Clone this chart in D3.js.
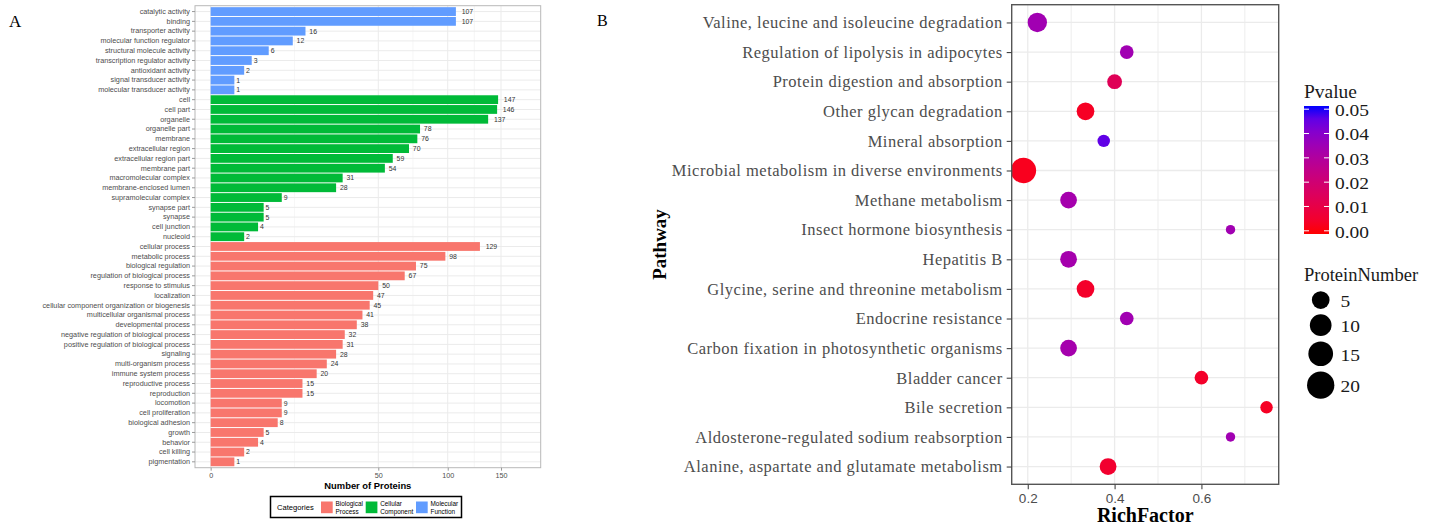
<!DOCTYPE html>
<html><head><meta charset="utf-8">
<script src="https://cdn.jsdelivr.net/npm/d3@7"></script>
<style>body{margin:0;background:#fff} svg{display:block}</style>
</head><body>
<svg id="c" width="1440" height="524"></svg>
<script>
// ---------------- DATA ----------------
const mfTerms = ["catalytic activity","binding","transporter activity","molecular function regulator","structural molecule activity","transcription regulator activity","antioxidant activity","signal transducer activity","molecular transducer activity"];
const mfCounts = [107,107,16,12,6,3,2,1,1];
const ccTerms = ["cell","cell part","organelle","organelle part","membrane","extracellular region","extracellular region part","membrane part","macromolecular complex","membrane-enclosed lumen","supramolecular complex","synapse part","synapse","cell junction","nucleoid"];
const ccCounts = [147,146,137,78,76,70,59,54,31,28,9,5,5,4,2];
const bpTerms = ["cellular process","metabolic process","biological regulation","regulation of biological process","response to stimulus","localization","cellular component organization or biogenesis","multicellular organismal process","developmental process","negative regulation of biological process","positive regulation of biological process","signaling","multi-organism process","immune system process","reproductive process","reproduction","locomotion","cell proliferation","biological adhesion","growth","behavior","cell killing","pigmentation"];
const bpCounts = [129,98,75,67,50,47,45,41,38,32,31,28,24,20,15,15,9,9,8,5,4,2,1];
const categoryNames = ["Biological Process","Cellular Component","Molecular Function"];
const xTicksA = [0,50,100,150];

const pathways = ["Valine, leucine and isoleucine degradation","Regulation of lipolysis in adipocytes","Protein digestion and absorption","Other glycan degradation","Mineral absorption","Microbial metabolism in diverse environments","Methane metabolism","Insect hormone biosynthesis","Hepatitis B","Glycine, serine and threonine metabolism","Endocrine resistance","Carbon fixation in photosynthetic organisms","Bladder cancer","Bile secretion","Aldosterone-regulated sodium reabsorption","Alanine, aspartate and glutamate metabolism"];
const richFactor = [0.222,0.428,0.400,0.333,0.375,0.190,0.294,0.667,0.294,0.333,0.428,0.294,0.600,0.750,0.667,0.385];
const pValue = [0.034,0.034,0.014,0.004,0.045,0.003,0.033,0.034,0.033,0.005,0.034,0.033,0.005,0.004,0.034,0.006];
const proteinNumber = [11,5,6,9,4,20,8,2,8,9,5,8,5,4,2,8];
const xTicksB = [0.2,0.4,0.6];
const pTicks = [0,0.01,0.02,0.03,0.04,0.05];
const sizeLegendValues = [5,10,15,20];

// ---------------- SETUP ----------------
const svg = d3.select("#c");
const sans = "'Liberation Sans', Arial, sans-serif";
const serif = "'Liberation Serif', 'Times New Roman', serif";
const catColor = d3.scaleOrdinal().domain(categoryNames).range(["#F8766D","#00BA38","#619CFF"]);

// ---------------- PANEL A ----------------
const A = {l:195, r:540.7, t:5.7, b:467.7};
const rowsA = [];
mfTerms.forEach((t,i)=>rowsA.push({term:t, n:mfCounts[i], cat:"Molecular Function"}));
ccTerms.forEach((t,i)=>rowsA.push({term:t, n:ccCounts[i], cat:"Cellular Component"}));
bpTerms.forEach((t,i)=>rowsA.push({term:t, n:bpCounts[i], cat:"Biological Process"}));

const yA = d3.scaleBand().domain(rowsA.map(d=>d.term)).range([A.t, A.b]).paddingInner(0.1).paddingOuter(0.15);
const xA = d3.scaleSqrt().domain([-0.4356, 193.8]).range([A.l, A.r]);
const gA = svg.append("g");

gA.append("rect").attr("x",A.l).attr("y",A.t).attr("width",A.r-A.l).attr("height",A.b-A.t).attr("fill","#fff");
const minorA = d3.pairs(xTicksA).map(([a,b])=>Math.pow((Math.sqrt(a)+Math.sqrt(b))/2,2));
gA.selectAll(".mgx").data(minorA).join("line").attr("x1",d=>xA(d)).attr("x2",d=>xA(d)).attr("y1",A.t).attr("y2",A.b).attr("stroke","#f0f0f0").attr("stroke-width",0.6);
gA.selectAll(".gx").data(xTicksA).join("line").attr("x1",d=>xA(d)).attr("x2",d=>xA(d)).attr("y1",A.t).attr("y2",A.b).attr("stroke","#ebebeb").attr("stroke-width",1);
gA.selectAll(".gy").data(rowsA).join("line").attr("x1",A.l).attr("x2",A.r).attr("y1",d=>yA(d.term)+yA.bandwidth()/2).attr("y2",d=>yA(d.term)+yA.bandwidth()/2).attr("stroke","#ebebeb").attr("stroke-width",1);

gA.selectAll(".bar").data(rowsA).join("rect")
  .attr("x",xA(0)).attr("y",d=>yA(d.term)).attr("width",d=>xA(d.n)-xA(0)).attr("height",yA.bandwidth())
  .attr("fill",d=>catColor(d.cat));

const vl = gA.selectAll(".vl").data(rowsA).join("text")
  .attr("x",d=>xA(d.n)).attr("y",d=>yA(d.term)+yA.bandwidth()/2)
  .attr("dy","0.35em").attr("font-family",sans).attr("font-size",6.9).attr("fill","#333")
  .text(d=>d.n);
vl.each(function(){ const w=this.getComputedTextLength(); d3.select(this).attr("dx", 0.5*w); });

gA.append("rect").attr("x",A.l).attr("y",A.t).attr("width",A.r-A.l).attr("height",A.b-A.t).attr("fill","none").attr("stroke","#b8b8b8").attr("stroke-width",1);

const axYA = gA.append("g").attr("transform",`translate(${A.l},0)`).call(d3.axisLeft(yA).tickSize(3).tickPadding(2));
axYA.select(".domain").remove();
axYA.selectAll("line").attr("stroke","#999");
axYA.selectAll("text").attr("font-family",sans).attr("font-size",7.25).attr("fill","#4d4d4d");
const axXA = gA.append("g").attr("transform",`translate(0,${A.b})`).call(d3.axisBottom(xA).tickValues(xTicksA).tickSize(3).tickPadding(2));
axXA.select(".domain").remove();
axXA.selectAll("line").attr("stroke","#999");
axXA.selectAll("text").attr("font-family",sans).attr("font-size",7.2).attr("fill","#4d4d4d");
gA.append("text").attr("x",(A.l+A.r)/2).attr("y",489).attr("text-anchor","middle").attr("font-family",sans).attr("font-weight","bold").attr("font-size",9.4).attr("fill","#000").text("Number of Proteins");

const lg = gA.append("g");
lg.append("rect").attr("x",270.5).attr("y",496.5).attr("width",191).attr("height",21).attr("fill","#fff").attr("stroke","#000").attr("stroke-width",1.5);
lg.append("text").attr("x",277).attr("y",507).attr("dy","0.35em").attr("font-family",sans).attr("font-size",7.6).attr("fill","#000").text("Categories");
const keyX = [321, 365.7, 416];
categoryNames.forEach((c,i)=>{
  lg.append("rect").attr("x",keyX[i]).attr("y",501.5).attr("width",11.7).attr("height",11.7).attr("fill",catColor(c));
  c.split(" ").forEach((p,j)=>lg.append("text").attr("x",keyX[i]+14.5).attr("y",504.2+j*7.2).attr("dy","0.35em").attr("font-family",sans).attr("font-size",6.4).attr("fill","#000").text(p));
});
svg.append("text").attr("x",9).attr("y",27).attr("font-family",serif).attr("font-size",17).attr("fill","#000").text("A");

// ---------------- PANEL B ----------------
const B = {l:1011.7, r:1278.7, t:4.7, b:484.3};
const xB = d3.scaleLinear().domain([0.163, 0.778]).range([B.l, B.r]);
const yB = d3.scalePoint().domain(pathways).range([B.t, B.b]).padding(0.6);
const pColor = d3.scaleLinear().domain([0,0.05]).range(["red","blue"]).interpolate(d3.interpolateLab);
const rLin = d3.scaleLinear().domain([Math.sqrt(2), Math.sqrt(20)]).range([4.7,12.7]);
const rB = v => rLin(Math.sqrt(v));
const gB = svg.append("g");
const rowsB = pathways.map((p,i)=>({p, rf:richFactor[i], pv:pValue[i], n:proteinNumber[i]}));

const minorB = d3.pairs(xTicksB).map(([a,b])=>(a+b)/2).concat([xTicksB[xTicksB.length-1]+0.1]);
gB.selectAll(".mg").data(minorB).join("line").attr("x1",d=>xB(d)).attr("x2",d=>xB(d)).attr("y1",B.t).attr("y2",B.b).attr("stroke","#ebebeb").attr("stroke-width",0.9);
gB.selectAll(".gx").data(xTicksB).join("line").attr("x1",d=>xB(d)).attr("x2",d=>xB(d)).attr("y1",B.t).attr("y2",B.b).attr("stroke","#ebebeb").attr("stroke-width",1.3);
gB.selectAll(".gy").data(pathways).join("line").attr("x1",B.l).attr("x2",B.r).attr("y1",d=>yB(d)).attr("y2",d=>yB(d)).attr("stroke","#ebebeb").attr("stroke-width",1.3);

svg.append("clipPath").attr("id","clipB").append("rect").attr("x",B.l).attr("y",B.t).attr("width",B.r-B.l).attr("height",B.b-B.t);
gB.append("g").attr("clip-path","url(#clipB)").selectAll("circle").data(rowsB).join("circle")
  .attr("cx",d=>xB(d.rf)).attr("cy",d=>yB(d.p)).attr("r",d=>rB(d.n)).attr("fill",d=>pColor(d.pv));

gB.append("rect").attr("x",B.l).attr("y",B.t).attr("width",B.r-B.l).attr("height",B.b-B.t).attr("fill","none").attr("stroke","#555").attr("stroke-width",1.4);

const axYB = gB.append("g").attr("transform",`translate(${B.l},0)`).call(d3.axisLeft(yB).tickSize(5).tickPadding(4));
axYB.select(".domain").remove();
axYB.selectAll("line").attr("stroke","#444").attr("stroke-width",1.1);
axYB.selectAll("text").attr("font-family",serif).attr("font-size",16.5).attr("fill","#4d4d4d").attr("letter-spacing","0.5px");
const axXB = gB.append("g").attr("transform",`translate(0,${B.b})`).call(d3.axisBottom(xB).tickValues(xTicksB).tickFormat(d3.format(".1f")).tickSize(5).tickPadding(4));
axXB.select(".domain").remove();
axXB.selectAll("line").attr("stroke","#444").attr("stroke-width",1.1);
axXB.selectAll("text").attr("font-family",sans).attr("font-size",13.5).attr("fill","#4d4d4d");

gB.append("text").attr("x",(B.l+B.r)/2).attr("y",521.5).attr("text-anchor","middle").attr("font-family",serif).attr("font-weight","bold").attr("font-size",20).attr("fill","#000").text("RichFactor");
gB.append("text").attr("transform",`translate(666,${(B.t+B.b)/2}) rotate(-90)`).attr("text-anchor","middle").attr("font-family",serif).attr("font-weight","bold").attr("font-size",19).attr("fill","#000").text("Pathway");
svg.append("text").attr("x",597).attr("y",26).attr("font-family",serif).attr("font-size",16).attr("fill","#000").text("B");

// Pvalue colorbar
const cb = {x:1304, y:106, w:25, h:128};
const defs = svg.append("defs");
const grad = defs.append("linearGradient").attr("id","pgrad").attr("x1",0).attr("y1",1).attr("x2",0).attr("y2",0);
d3.range(0,1.0001,0.1).forEach(t=>grad.append("stop").attr("offset",t).attr("stop-color",pColor(t*0.05)));
const lgB = svg.append("g");
lgB.append("text").attr("x",cb.x).attr("y",98).attr("font-family",serif).attr("font-size",18).attr("fill","#1a1a1a").attr("transform",`translate(${cb.x},0) scale(1.08,1) translate(${-cb.x},0)`).text("Pvalue");
lgB.append("rect").attr("x",cb.x).attr("y",cb.y).attr("width",cb.w).attr("height",cb.h).attr("fill","url(#pgrad)");
const inset = cb.h*0.5/20;
const pPos = d3.scaleLinear().domain([0,0.05]).range([cb.y+cb.h-inset, cb.y+inset]);
const labX = cb.x+cb.w+6;
pTicks.forEach(v=>{
  lgB.append("line").attr("x1",cb.x).attr("x2",cb.x+cb.w/5).attr("y1",pPos(v)).attr("y2",pPos(v)).attr("stroke","#fff").attr("stroke-width",1);
  lgB.append("line").attr("x1",cb.x+cb.w*4/5).attr("x2",cb.x+cb.w).attr("y1",pPos(v)).attr("y2",pPos(v)).attr("stroke","#fff").attr("stroke-width",1);
  lgB.append("text").attr("x",labX).attr("y",pPos(v)+1).attr("dy","0.35em").attr("font-family",serif).attr("font-size",16.5)
    .attr("transform",`translate(${labX},0) scale(1.18,1) translate(${-labX},0)`).attr("fill","#1a1a1a").text(d3.format(".2f")(v));
});

// size legend
lgB.append("text").attr("x",cb.x).attr("y",281).attr("font-family",serif).attr("font-size",18.5).attr("fill","#1a1a1a").text("ProteinNumber");
const rLeg = d3.scaleLinear().domain([Math.sqrt(5), Math.sqrt(20)]).range([8.85,13.65]);
let yCur = 288.5;
const sLabX = 1340.5;
sizeLegendValues.forEach(v=>{
  const r = rLeg(Math.sqrt(v));
  const h = 2*r+5.4;
  const cy = yCur + h/2;
  lgB.append("circle").attr("cx",1320.7).attr("cy",cy).attr("r",r).attr("fill","#000");
  lgB.append("text").attr("x",sLabX).attr("y",cy+1).attr("dy","0.35em").attr("font-family",serif).attr("font-size",16.5)
    .attr("transform",`translate(${sLabX},0) scale(1.18,1) translate(${-sLabX},0)`).attr("fill","#1a1a1a").text(v);
  yCur += h;
});
</script>
</body></html>
